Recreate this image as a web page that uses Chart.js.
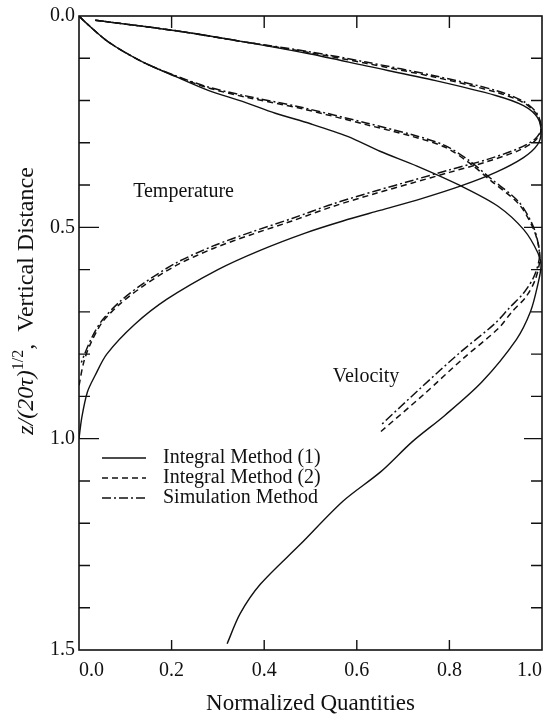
<!DOCTYPE html>
<html>
<head>
<meta charset="utf-8">
<script src="https://cdn.jsdelivr.net/npm/chart.js@4.4.0/dist/chart.umd.min.js"></script>
<style>
  html, body { margin: 0; padding: 0; background: #fff; }
  #c { display: block; }
</style>
</head>
<body>
<canvas id="c" width="551" height="718"></canvas>
<script>
// ---------------- DATA ----------------
// Temperature profiles (x = normalized quantity, y = vertical distance)
const tempInt1X = [0.035, 0.21, 0.35, 0.50, 0.62, 0.77, 0.90, 0.96, 0.99, 0.998, 0.99, 0.96, 0.90, 0.825, 0.74, 0.65, 0.57, 0.49, 0.39, 0.30, 0.19, 0.12, 0.06, 0.035, 0.018, 0.006, 0.0];
const tempInt1Y = [0.01, 0.035, 0.06, 0.09, 0.118, 0.153, 0.188, 0.212, 0.24, 0.275, 0.305, 0.335, 0.37, 0.402, 0.432, 0.46, 0.485, 0.513, 0.555, 0.60, 0.67, 0.73, 0.80, 0.85, 0.89, 0.95, 1.0];

const tempInt2X = [0.035, 0.21, 0.35, 0.50, 0.62, 0.77, 0.90, 0.96, 0.99, 0.998, 0.985, 0.95, 0.88, 0.80, 0.72, 0.64, 0.55, 0.46, 0.37, 0.29, 0.21, 0.14, 0.09, 0.05, 0.025, 0.01, 0.0];
const tempInt2Y = [0.01, 0.035, 0.06, 0.087, 0.112, 0.145, 0.18, 0.205, 0.235, 0.27, 0.295, 0.318, 0.345, 0.37, 0.395, 0.42, 0.45, 0.485, 0.518, 0.55, 0.59, 0.638, 0.68, 0.725, 0.775, 0.82, 0.875];

const tempSimX = [0.035, 0.21, 0.35, 0.50, 0.62, 0.77, 0.90, 0.96, 0.99, 0.998, 0.985, 0.95, 0.88, 0.80, 0.72, 0.64, 0.55, 0.46, 0.37, 0.29, 0.21, 0.14, 0.09, 0.05, 0.028, 0.012, 0.005];
const tempSimY = [0.01, 0.035, 0.06, 0.085, 0.109, 0.142, 0.176, 0.202, 0.232, 0.268, 0.291, 0.313, 0.34, 0.364, 0.389, 0.414, 0.444, 0.479, 0.512, 0.544, 0.584, 0.632, 0.674, 0.72, 0.76, 0.80, 0.82];

// Velocity profiles
const velInt1X = [0.0, 0.013, 0.063, 0.136, 0.208, 0.279, 0.353, 0.424, 0.50, 0.58, 0.65, 0.73, 0.825, 0.905, 0.961, 0.991, 0.998, 0.99, 0.975, 0.945, 0.87, 0.79, 0.72, 0.652, 0.57, 0.478, 0.392, 0.348, 0.32];
const velInt1Y = [0.0, 0.014, 0.061, 0.108, 0.143, 0.176, 0.202, 0.23, 0.255, 0.285, 0.32, 0.355, 0.402, 0.45, 0.506, 0.56, 0.59, 0.64, 0.70, 0.765, 0.866, 0.945, 1.007, 1.078, 1.148, 1.25, 1.344, 1.414, 1.485];

const velInt2X = [0.0, 0.013, 0.063, 0.136, 0.208, 0.279, 0.36, 0.48, 0.62, 0.72, 0.79, 0.84, 0.89, 0.95, 0.98, 0.993, 0.995, 0.985, 0.965, 0.935, 0.905, 0.83, 0.745, 0.65];
const velInt2Y = [0.0, 0.014, 0.061, 0.108, 0.142, 0.17, 0.192, 0.219, 0.257, 0.285, 0.31, 0.345, 0.39, 0.445, 0.50, 0.545, 0.58, 0.625, 0.665, 0.70, 0.74, 0.81, 0.895, 0.985];

const velSimX = [0.0, 0.013, 0.063, 0.136, 0.208, 0.279, 0.36, 0.48, 0.62, 0.72, 0.79, 0.84, 0.89, 0.95, 0.98, 0.992, 0.994, 0.982, 0.96, 0.93, 0.898, 0.822, 0.738, 0.652];
const velSimY = [0.0, 0.014, 0.061, 0.108, 0.141, 0.168, 0.189, 0.216, 0.253, 0.281, 0.306, 0.34, 0.385, 0.44, 0.495, 0.54, 0.575, 0.618, 0.656, 0.69, 0.728, 0.797, 0.88, 0.968];

// Axis ticks
const xTickLabels = [0.0, 0.2, 0.4, 0.6, 0.8, 1.0];
const xInnerTicks = [0.2, 0.4, 0.6, 0.8];
const yTickLabels = [0.0, 0.5, 1.0, 1.5];
const yInnerTicks = [0.1, 0.2, 0.3, 0.4, 0.5, 0.6, 0.7, 0.8, 0.9, 1.0, 1.1, 1.2, 1.3, 1.4];
const yMajorTicks = [0.5, 1.0];

const legendLabels = ['Integral Method (1)', 'Integral Method (2)', 'Simulation Method'];
const curveLabels = [
  { text: 'Temperature', x: 0.117, y: 0.416 },
  { text: 'Velocity', x: 0.548, y: 0.854 }
];

// ---------------- STYLE ----------------
const FONT = '"Liberation Serif", "DejaVu Serif", serif';
const DASH = [6, 4];
const DASHDOT = [9, 3, 2, 3];
const STYLES = [
  { dash: [], width: 1.4 },
  { dash: DASH, width: 1.5 },
  { dash: DASHDOT, width: 1.5 }
];

function pts(xs, ys) { return xs.map((v, i) => ({ x: v, y: ys[i] })); }
function ds(label, xs, ys, s) {
  return {
    label: label,
    data: pts(xs, ys),
    showLine: true,
    borderColor: '#111',
    borderWidth: STYLES[s].width,
    borderDash: STYLES[s].dash,
    pointRadius: 0,
    fill: false,
    tension: 0.3
  };
}

const datasets = [
  ds('Temperature - Integral Method (1)', tempInt1X, tempInt1Y, 0),
  ds('Temperature - Integral Method (2)', tempInt2X, tempInt2Y, 1),
  ds('Temperature - Simulation Method', tempSimX, tempSimY, 2),
  ds('Velocity - Integral Method (1)', velInt1X, velInt1Y, 0),
  ds('Velocity - Integral Method (2)', velInt2X, velInt2Y, 1),
  ds('Velocity - Simulation Method', velSimX, velSimY, 2)
];

const framePlugin = {
  id: 'frame',
  afterDraw(chart) {
    const ctx = chart.ctx;
    const { left, right, top, bottom } = chart.chartArea;
    const xs = chart.scales.x, ys = chart.scales.y;
    ctx.save();
    ctx.strokeStyle = '#111';
    ctx.lineWidth = 1.6;
    ctx.setLineDash([]);
    ctx.strokeRect(left, top, right - left, bottom - top);
    ctx.lineWidth = 1.4;
    ctx.beginPath();
    yInnerTicks.forEach(v => {
      const py = ys.getPixelForValue(v);
      const major = yMajorTicks.some(m => Math.abs(m - v) < 1e-6);
      ctx.moveTo(left, py); ctx.lineTo(left + (major ? 20 : 11), py);
      ctx.moveTo(right, py); ctx.lineTo(right - (major ? 18 : 11), py);
    });
    xInnerTicks.forEach(v => {
      const px = xs.getPixelForValue(v);
      ctx.moveTo(px, top); ctx.lineTo(px, top + 12);
      ctx.moveTo(px, bottom); ctx.lineTo(px, bottom - 10);
    });
    ctx.stroke();

    // legend
    ctx.font = '20px ' + FONT;
    ctx.fillStyle = '#111';
    ctx.textBaseline = 'middle';
    ctx.textAlign = 'left';
    legendLabels.forEach((t, i) => {
      const yy = 458 + i * 20;
      ctx.beginPath();
      ctx.lineWidth = STYLES[i].width;
      ctx.setLineDash(STYLES[i].dash);
      ctx.moveTo(102, yy); ctx.lineTo(146, yy);
      ctx.stroke();
      ctx.setLineDash([]);
      ctx.fillText(t, 163, yy);
    });

    // curve labels
    curveLabels.forEach(c => {
      ctx.fillText(c.text, xs.getPixelForValue(c.x), ys.getPixelForValue(c.y));
    });

    // y axis title with superscript
    const cy = 301;
    ctx.translate(27, cy);
    ctx.rotate(-Math.PI / 2);
    const parts = [
      { t: 'z/(20τ)', f: 'italic 24px ' + FONT, dy: 0 },
      { t: '1/2', f: '16px ' + FONT, dy: -8 },
      { t: ',  Vertical Distance', f: '24px ' + FONT, dy: 0 }
    ];
    let total = 0;
    parts.forEach(p => { ctx.font = p.f; p.w = ctx.measureText(p.t).width; total += p.w; });
    let xx = -total / 2;
    parts.forEach(p => {
      ctx.font = p.f;
      ctx.fillText(p.t, xx, p.dy);
      xx += p.w;
    });
    ctx.restore();
  }
};

new Chart(document.getElementById('c'), {
  type: 'scatter',
  data: { datasets },
  options: {
    responsive: false,
    animation: false,
    devicePixelRatio: 1,
    layout: { padding: { top: 12, right: 9, left: 0, bottom: 0 } },
    plugins: { legend: { display: false }, tooltip: { enabled: false } },
    scales: {
      x: {
        type: 'linear', min: 0, max: 1.0,
        afterFit(s) { s.height = 68; },
        afterBuildTicks(s) { s.ticks = xTickLabels.map(v => ({ value: v })); },
        grid: { display: false, drawTicks: false },
        border: { display: false },
        ticks: {
          align: 'inner',
          padding: 9,
          color: '#111',
          font: { family: FONT, size: 20 },
          callback: v => Number(v).toFixed(1)
        },
        title: {
          display: true, text: 'Normalized Quantities', color: '#111',
          font: { family: FONT, size: 23 }, padding: { top: 2, bottom: 0 }
        }
      },
      y: {
        type: 'linear', min: 0, max: 1.5, reverse: true,
        afterFit(s) { s.width = 79; },
        afterBuildTicks(s) { s.ticks = yTickLabels.map(v => ({ value: v })); },
        grid: { display: false, drawTicks: false },
        border: { display: false },
        ticks: {
          padding: 4,
          color: '#111',
          font: { family: FONT, size: 20 },
          callback: v => Number(v).toFixed(1)
        }
      }
    }
  },
  plugins: [framePlugin]
});
</script>
</body>
</html>
